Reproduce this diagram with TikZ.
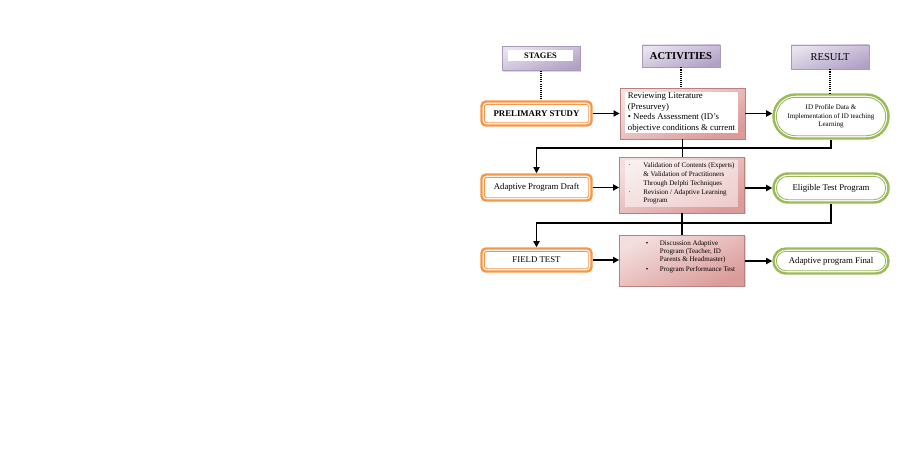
\documentclass[tikz,border=0pt]{standalone}
\usepackage{fontspec}
\setmainfont{Liberation Serif}
\usetikzlibrary{positioning,arrows.meta,shadows}

\definecolor{hdpurple}{RGB}{178,161,199}
\definecolor{actred}{RGB}{217,150,148}
\definecolor{stageorange}{RGB}{247,150,70}
\definecolor{resgreen}{RGB}{155,187,89}

\begin{document}
\begin{tikzpicture}[
  header/.style={
    rectangle, minimum width=1.56cm, minimum height=0.48cm,
    draw=hdpurple!80!gray, top color=hdpurple!30, bottom color=hdpurple,
    shading angle=20,
    drop shadow={opacity=0.3, shadow xshift=0.8pt, shadow yshift=-0.8pt}
  },
  stage/.style={
    rectangle, rounded corners=2.5pt, minimum width=2.2cm,
    draw=stageorange, line width=1.4pt, fill=white,
    font=\fontsize{5}{6}\selectfont,
    path picture={
      \draw[stageorange, line width=0.5pt, rounded corners=1pt]
        ([shift={(1.6pt,1.6pt)}]path picture bounding box.south west) rectangle
        ([shift={(-1.6pt,-1.6pt)}]path picture bounding box.north east);
    }
  },
  activity/.style={
    rectangle, minimum width=2.5cm,
    draw=actred!85!black, top color=actred!30, bottom color=actred!95,
    shading angle=25,
    drop shadow={opacity=0.3, shadow xshift=0.8pt, shadow yshift=-0.8pt}
  },
  result/.style={
    rectangle, minimum width=2.3cm, rounded corners=#1,
    draw=resgreen, line width=1.4pt, fill=white, align=center,
    path picture={
      \draw[resgreen, line width=0.5pt, rounded corners=#1-1.6pt]
        ([shift={(1.6pt,1.6pt)}]path picture bounding box.south west) rectangle
        ([shift={(-1.6pt,-1.6pt)}]path picture bounding box.north east);
    }
  },
  arrow/.style={-{Triangle[length=3.5pt, width=3.5pt]}, line width=1pt},
  link/.style={line width=1pt},
  dotline/.style={line width=1.1pt, dash pattern=on 0.6pt off 0.6pt}
]
\useasboundingbox (0,0) rectangle (18.02, 9.2);

% === Column headers ===
\node[header] (stagesbox) at (10.82, 8.03) {};
\node[fill=white, minimum width=1.3cm, minimum height=0.22cm, inner sep=0pt,
  font=\fontsize{4.8}{5}\selectfont\bfseries] (stages) at (10.81, 8.09) {STAGES};
\node[header, minimum height=0.44cm, font=\fontsize{6}{7}\selectfont\bfseries]
  (activities) at (13.62, 8.08) {ACTIVITIES};
\node[header, font=\fontsize{6}{7}\selectfont] (resulthd) at (16.60, 8.06) {RESULT};

% === Stages ===
\node[stage, minimum height=0.48cm, font=\fontsize{5}{6}\selectfont\bfseries]
  (prelim) at (10.73, 6.93) {PRELIMARY STUDY};
\node[stage, minimum height=0.52cm] (draft) at (10.73, 5.45) {Adaptive Program Draft};
\node[stage, minimum height=0.46cm] (field) at (10.73, 4.00) {FIELD TEST};

% === Activities ===
\node[activity, minimum height=1.02cm] (act1) at (13.65, 6.93) {};
\node[fill=white, minimum width=2.26cm, minimum height=0.82cm, inner sep=0.6pt,
  align=left, font=\fontsize{5}{6}\selectfont] (act1txt) at (13.63, 6.95)
  {Reviewing Literature\\(Presurvey)\\\textbullet{} Needs Assessment (ID's\\objective conditions \& current};

\node[activity, minimum height=1.12cm] (act2) at (13.64, 5.50) {};
\node[fill=white, fill opacity=0.5, text opacity=1, minimum width=2.26cm,
  minimum height=0.86cm, inner sep=0.6pt, font=\fontsize{4}{5}\selectfont]
  (act2txt) at (13.63, 5.53)
  {\begin{tabular}{@{}p{8.5pt}@{}l@{}}
   · & Validation of Contents (Experts)\\
     & \& Validation of Practitioners\\
     & Through Delphi Techniques\\
   · & Revision / Adaptive Learning\\
     & Program
   \end{tabular}};

\node[activity, minimum height=1.02cm] (act3) at (13.64, 3.99) {};
\node[inner sep=0pt, font=\fontsize{4}{4.5}\selectfont] (act3txt) at (13.81, 4.06)
  {\begin{tabular}{@{}p{8pt}@{}l@{}}
   \textbullet & Discussion Adaptive\\
               & Program (Teacher, ID\\
               & Parents \& Headmaster)\\[1pt]
   \textbullet & Program Performance Test
   \end{tabular}};

% === Results ===
\node[result=0.44cm, minimum height=0.88cm, font=\fontsize{4}{4.7}\selectfont]
  (res1) at (16.62, 6.87) {ID Profile Data \&\\Implementation of ID teaching\\Learning};
\node[result=0.29cm, minimum height=0.58cm, font=\fontsize{5}{6}\selectfont]
  (res2) at (16.62, 5.44) {Eligible Test Program};
\node[result=0.25cm, minimum height=0.50cm, font=\fontsize{5}{6}\selectfont]
  (res3) at (16.62, 3.98) {Adaptive program Final};

% === Header links ===
\draw[dotline] (stagesbox.south) -- (stagesbox.south |- prelim.north);
\draw[dotline] (activities.south) -- (activities.south |- act1.north);
\draw[dotline] (resulthd.south) -- (resulthd.south |- res1.north);

% === Flow arrows ===
\draw[arrow] (prelim.east) -- (prelim.east -| act1.west);
\draw[arrow] (act1.east) -- (act1.east -| res1.west);
\draw[arrow] (draft.east) -- (draft.east -| act2.west);
\draw[arrow] (act2.east |- res2) -- (res2.west);
\draw[arrow] (field.east) -- (field.east -| act3.west);
\draw[arrow] (act3.east |- res3) -- (res3.west);

% Activity links
\draw[link] (act1.south) -- (act1.south |- act2.north);
\draw[link] (act2.south) -- (act2.south |- act3.north);

% Result back to next stage
\coordinate (turn1) at (10.73, 6.24);
\coordinate (turn2) at (10.73, 4.74);
\draw[arrow] (res1.south) |- (turn1) -- (draft.north);
\draw[arrow] (res2.south) |- (turn2) -- (field.north);

\end{tikzpicture}
\end{document}
